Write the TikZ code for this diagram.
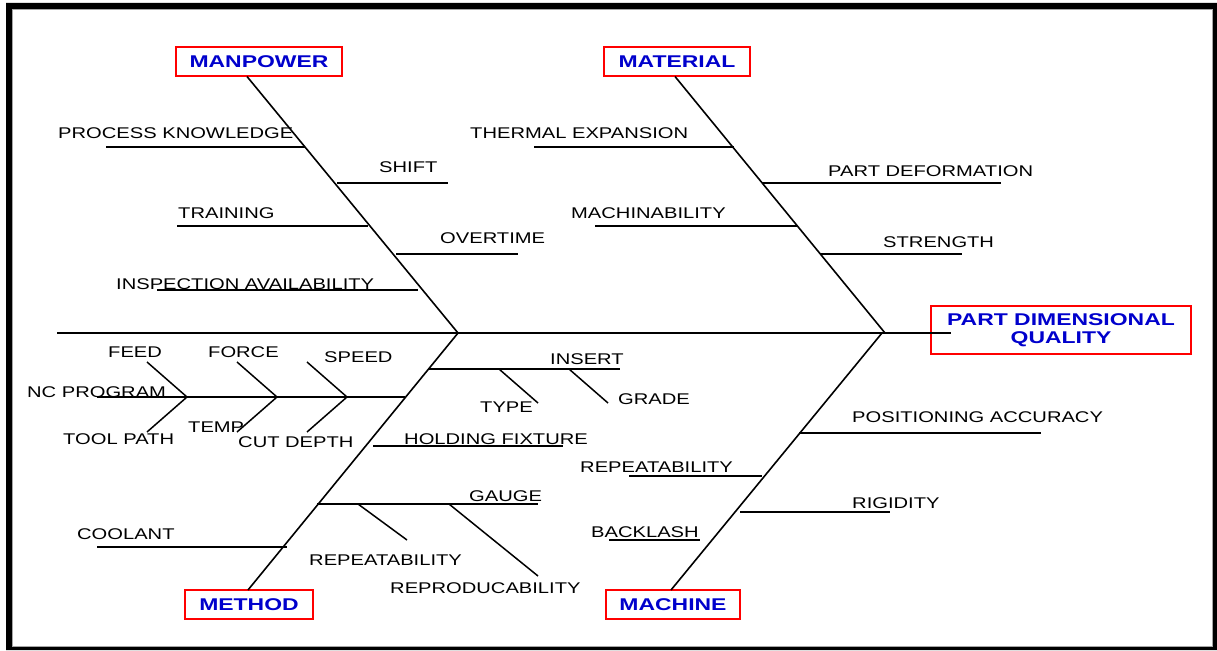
\documentclass[tikz,border=0pt]{standalone}
\usepackage{fontspec}
\setmainfont{Liberation Sans}
\usepackage{graphicx}
\definecolor{hblue}{RGB}{0,0,204}
\definecolor{hred}{RGB}{255,0,0}
\newcommand{\lab}[1]{\scalebox{1.3}[1]{#1}}
\newcommand{\hlab}[1]{\scalebox{1.35}[1]{#1}}
\begin{document}
\begin{tikzpicture}[x=1pt,y=-1pt,
  bone/.style={line width=1.6pt, black},
  twig/.style={line width=1.5pt, black},
  lbl/.style={inner sep=0pt, anchor=base west, font=\fontsize{15.5}{18}\selectfont},
  head/.style={draw=hred, line width=2pt, inner sep=0pt, text=hblue, align=center,
               font=\bfseries\fontsize{17}{18}\selectfont}]
\useasboundingbox (0,0) rectangle (1217,650);
% frame
\fill[black, even odd rule] (6,3) rectangle (1217,650) (12,9) rectangle (1213,647);
\draw[black!35, line width=0.8pt] (12.4,9.4) rectangle (1212.6,646.6);

% heads
\node[head, minimum width=166pt, minimum height=29pt] (manpower) at (259,61.5) {\hlab{MANPOWER}};
\node[head, minimum width=146pt, minimum height=29pt] (material) at (677,61.5) {\hlab{MATERIAL}};
\node[head, minimum width=260pt, minimum height=48pt] (effect) at (1061,330) {\hlab{PART DIMENSIONAL}\\\hlab{QUALITY}};
\node[head, minimum width=128pt, minimum height=29pt] (method) at (249,604.5) {\hlab{METHOD}};
\node[head, minimum width=134pt, minimum height=29pt] (machine) at (673,604.5) {\hlab{MACHINE}};

% main coordinates
\path (57,333) coordinate (sL) (951,333) coordinate (sR)
      (458,333) coordinate (j1) (885,333) coordinate (j2) (882,333) coordinate (j3)
      (247,76.5) coordinate (mpT) (675,76.5) coordinate (maT)
      (248,590) coordinate (meB) (671,590) coordinate (mcB);
\draw[bone] (sL) -- (sR);
\draw[bone] (mpT) -- (j1);
\draw[bone] (maT) -- (j2);
\draw[bone] (j1) -- (meB);
\draw[bone] (j3) -- (mcB);

% labels: manpower
\node[lbl] (pk) at (58,139) {\lab{PROCESS KNOWLEDGE}};
\node[lbl] (shift) at (379,172) {\lab{SHIFT}};
\node[lbl] (training) at (178,218) {\lab{TRAINING}};
\node[lbl] (overtime) at (440,243) {\lab{OVERTIME}};
\node[lbl] (insp) at (116,289) {\lab{INSPECTION AVAILABILITY}};
% material
\node[lbl] (thermal) at (470,139) {\lab{THERMAL EXPANSION}};
\node[lbl] (deform) at (828,176) {\lab{PART DEFORMATION}};
\node[lbl] (machin) at (571,218) {\lab{MACHINABILITY}};
\node[lbl] (strength) at (883,247) {\lab{STRENGTH}};
% method
\node[lbl] (feed) at (108,357) {\lab{FEED}};
\node[lbl] (force) at (208,357) {\lab{FORCE}};
\node[lbl] (speed) at (324,362) {\lab{SPEED}};
\node[lbl] (nc) at (27,397) {\lab{NC PROGRAM}};
\node[lbl] (toolpath) at (63,444) {\lab{TOOL PATH}};
\node[lbl] (temp) at (188,432) {\lab{TEMP}};
\node[lbl] (cutdepth) at (238,447) {\lab{CUT DEPTH}};
\node[lbl] (insert) at (550,364) {\lab{INSERT}};
\node[lbl] (type) at (480,412) {\lab{TYPE}};
\node[lbl] (grade) at (618,404) {\lab{GRADE}};
\node[lbl] (holding) at (404,444) {\lab{HOLDING FIXTURE}};
\node[lbl] (gauge) at (469,501) {\lab{GAUGE}};
\node[lbl] (rep1) at (309,565) {\lab{REPEATABILITY}};
\node[lbl] (repro) at (390,593) {\lab{REPRODUCABILITY}};
\node[lbl] (coolant) at (77,539) {\lab{COOLANT}};
% machine
\node[lbl] (posacc) at (852,422) {\lab{POSITIONING ACCURACY}};
\node[lbl] (rep2) at (580,472) {\lab{REPEATABILITY}};
\node[lbl] (rigidity) at (852,508) {\lab{RIGIDITY}};
\node[lbl] (backlash) at (591,537) {\lab{BACKLASH}};

% branch coordinates
\path (106,147) coordinate (pk1) (305,147) coordinate (pk2)
      (337,183) coordinate (sh1) (448,183) coordinate (sh2)
      (177,226) coordinate (tr1) (368,226) coordinate (tr2)
      (396,254) coordinate (ot1) (518,254) coordinate (ot2)
      (157,290) coordinate (in1) (418,290) coordinate (in2)
      (534,147) coordinate (th1) (734,147) coordinate (th2)
      (762,183) coordinate (pd1) (1001,183) coordinate (pd2)
      (595,226) coordinate (mc1) (797,226) coordinate (mc2)
      (821,254) coordinate (st1) (962,254) coordinate (st2)
      (97,397) coordinate (nc1) (405,397) coordinate (nc2)
      (187,397) coordinate (c1) (277,397) coordinate (c2) (347,397) coordinate (c3)
      (147,362) coordinate (fe1) (147,432) coordinate (tp1)
      (237,362) coordinate (fo1) (237,432) coordinate (te1)
      (307,362) coordinate (sp1) (307,432) coordinate (cd1)
      (428,369) coordinate (is1) (620,369) coordinate (is2)
      (499,369) coordinate (ty1) (538,403) coordinate (ty2)
      (569,369) coordinate (gr1) (608,403) coordinate (gr2)
      (373,446) coordinate (hf1) (563,446) coordinate (hf2)
      (317,504) coordinate (ga1) (538,504) coordinate (ga2)
      (358,504) coordinate (rp1) (407,540) coordinate (rp2)
      (449,504) coordinate (ro1) (538,576) coordinate (ro2)
      (97,547) coordinate (co1) (287,547) coordinate (co2)
      (799,433) coordinate (pa1) (1041,433) coordinate (pa2)
      (629,476) coordinate (re1) (762,476) coordinate (re2)
      (740,512) coordinate (ri1) (890,512) coordinate (ri2)
      (609,540) coordinate (ba1) (700,540) coordinate (ba2);

\draw[twig] (pk1) -- (pk2);
\draw[twig] (sh1) -- (sh2);
\draw[twig] (tr1) -- (tr2);
\draw[twig] (ot1) -- (ot2);
\draw[twig] (in1) -- (in2);
\draw[twig] (th1) -- (th2);
\draw[twig] (pd1) -- (pd2);
\draw[twig] (mc1) -- (mc2);
\draw[twig] (st1) -- (st2);
\draw[twig] (nc1) -- (nc2);
\draw[twig] (fe1) -- (c1) -- (tp1);
\draw[twig] (fo1) -- (c2) -- (te1);
\draw[twig] (sp1) -- (c3) -- (cd1);
\draw[twig] (is1) -- (is2);
\draw[twig] (ty1) -- (ty2);
\draw[twig] (gr1) -- (gr2);
\draw[twig] (hf1) -- (hf2);
\draw[twig] (ga1) -- (ga2);
\draw[twig] (rp1) -- (rp2);
\draw[twig] (ro1) -- (ro2);
\draw[twig] (co1) -- (co2);
\draw[twig] (pa1) -- (pa2);
\draw[twig] (re1) -- (re2);
\draw[twig] (ri1) -- (ri2);
\draw[twig] (ba1) -- (ba2);
\end{tikzpicture}
\end{document}
